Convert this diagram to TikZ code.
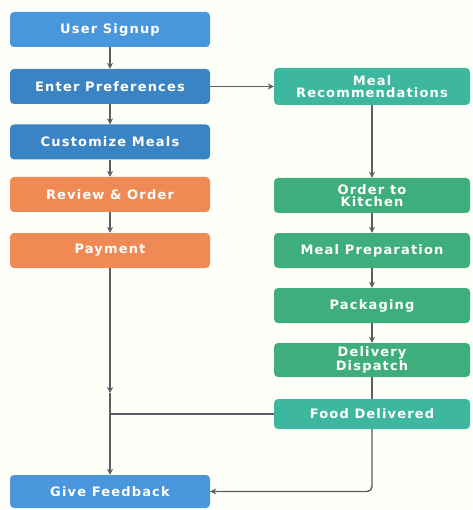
\documentclass[tikz,border=0pt]{standalone}
\usepackage{fontspec}
\usepackage{tikz}
\usetikzlibrary{arrows.meta, positioning, calc}
\newfontfamily\boxfont{DejaVu Sans}[LetterSpace=9]
\definecolor{blueA}{HTML}{4A96DC}
\definecolor{blueB}{HTML}{3A84C4}
\definecolor{orangeA}{HTML}{EF8A55}
\definecolor{tealA}{HTML}{3DB89E}
\definecolor{greenA}{HTML}{3DAE7C}
\definecolor{lineA}{HTML}{5A5F66}
\newcommand{\drawc}{\draw[line width=1.4pt, color=lineA]}
\tikzset{
  stepbox/.style={rounded corners=4pt, text=white, align=center, inner sep=0pt,
    font=\boxfont\bfseries\fontsize{13}{12.5}\selectfont},
  leftbox/.style={stepbox, minimum width=200pt, minimum height=35pt},
  rightbox/.style={stepbox, minimum width=196pt, minimum height=35pt},
}

\begin{document}
\begin{tikzpicture}[x=1pt, y=-1pt, >={Stealth[length=6pt, width=6pt]}]
% background
\fill[color=white!98!yellow] (0,0) rectangle (472,510);
\useasboundingbox (0,0) rectangle (472,510);

% left column
\node[leftbox, fill=blueA] (signup) at (110,29.5) {User Signup};
\node[leftbox, fill=blueB] (prefs) at (110,86.5) {Enter Preferences};
\node[leftbox, fill=blueB] (custom) at (110,142) {Customize Meals};
\node[leftbox, fill=orangeA] (review) at (110,194.5) {Review \& Order};
\node[leftbox, fill=orangeA] (payment) at (110,250.5) {Payment};
\node[leftbox, fill=blueA, minimum height=33pt] (feedback) at (110,491.5) {Give Feedback};

% right column
\node[rightbox, fill=tealA, minimum height=37pt] (mealrec) at (372,86.5) {Meal\\Recommendations};
\node[rightbox, fill=greenA] (kitchen) at (372,195.5) {Order to\\Kitchen};
\node[rightbox, fill=greenA] (prep) at (372,250.5) {Meal Preparation};
\node[rightbox, fill=greenA] (packing) at (372,305.5) {Packaging};
\node[rightbox, fill=greenA, minimum height=34pt] (dispatch) at (372,360) {Delivery\\Dispatch};
\node[rightbox, fill=tealA, minimum height=30pt] (delivered) at (372,414) {Food Delivered};

% joints
\coordinate (j1) at (110,393);
\coordinate (j2) at (110,414);

% connectors left
\drawc[->] (signup) -- (prefs);
\drawc[->] (prefs) -- (custom);
\drawc[->] (custom) -- (review);
\drawc[->] (review) -- (payment);
\drawc[->] (payment) -- (j1);
\drawc[->] (j1) -- (feedback);

% connectors right
\drawc[->] (prefs) -- (mealrec);
\drawc[->] (mealrec) -- (kitchen);
\drawc[->] (kitchen) -- (prep);
\drawc[->] (prep) -- (packing);
\drawc[->] (packing) -- (dispatch);
\drawc (dispatch) -- (delivered);
\drawc (delivered) -- (j2);
\drawc[->, rounded corners=5pt] (delivered.south) |- (feedback.east);
\end{tikzpicture}
\end{document}
